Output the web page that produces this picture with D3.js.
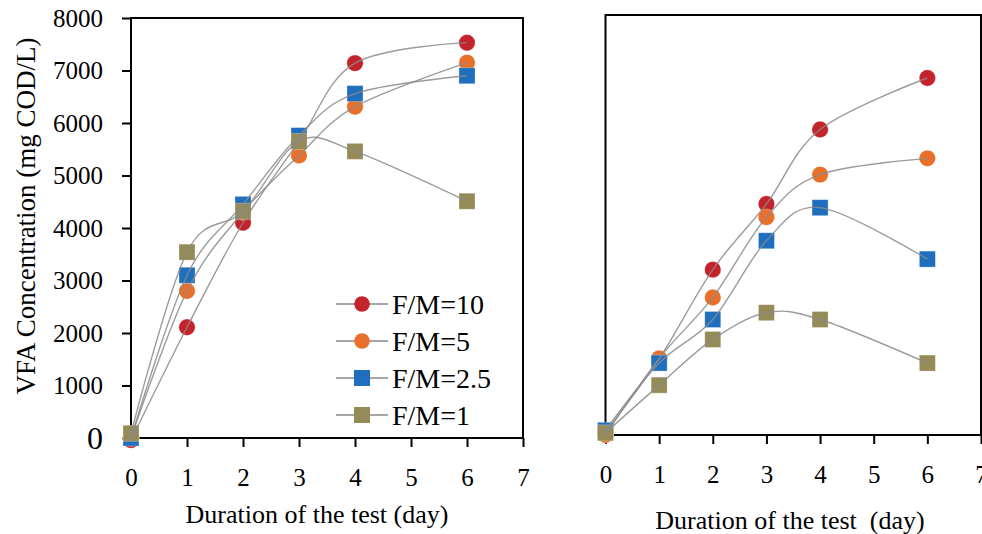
<!DOCTYPE html>
<html><head><meta charset="utf-8">
<script src="https://cdn.jsdelivr.net/npm/d3@7"></script>
<style>body{margin:0;background:#fff}svg{display:block}
svg text{font-family:"Liberation Serif","DejaVu Serif","Noto Serif",serif !important;fill:#000}</style>
</head><body><svg id="c" width="982" height="534"></svg>
<script>
const days = [0, 1, 2, 3, 4, 6];
const seriesNames = ["F/M=10", "F/M=5", "F/M=2.5", "F/M=1"];
const seriesColors = ["#C5232B", "#E8702A", "#1F6FBE", "#958B57"];
const seriesShapes = ["circle", "circle", "square", "square"];
// Left panel values (mg COD/L)
const leftFM10 = [-40, 2110, 4100, 5650, 7140, 7530];
const leftFM5 = [0, 2800, 4300, 5380, 6310, 7150];
const leftFM25 = [0, 3100, 4450, 5760, 6560, 6900];
const leftFM1 = [90, 3540, 4320, 5650, 5460, 4510];
// Right panel values (mg COD/L)
const rightFM10 = [60, 1450, 3150, 4400, 5820, 6800];
const rightFM5 = [0, 1460, 2620, 4150, 4960, 5270];
const rightFM25 = [90, 1370, 2200, 3700, 4330, 3350];
const rightFM1 = [40, 950, 1820, 2330, 2200, 1370];
const xTicks = [0, 1, 2, 3, 4, 5, 6, 7];
const yTicks = [0, 1000, 2000, 3000, 4000, 5000, 6000, 7000, 8000];
const yTitle = "VFA Concentration (mg COD/L)";
const xTitleLeft = "Duration of the test (day)";
const xTitleRight = "Duration of the test  (day)";

const FONT = '"Liberation Serif","DejaVu Serif","Noto Serif",serif';
const svg = d3.select("#c").attr("font-family", FONT);

function panel(opts) {
  const {x, y, data, showY, legend} = opts;
  const g = svg.append("g");
  const xa = g.append("g").attr("transform", `translate(0,${y.range()[0]})`)
    .call(d3.axisBottom(x).tickValues(xTicks).tickSize(9).tickSizeOuter(0).tickPadding(21).tickFormat(d3.format("d")));
  xa.attr("font-family", FONT);
  xa.select(".domain").remove();
  xa.selectAll("line").attr("stroke", "#000").attr("stroke-width", 2);
  xa.selectAll("text").attr("font-size", 25);
  if (showY) {
    const ya = g.append("g").attr("transform", `translate(${x.range()[0]},0)`)
      .call(d3.axisLeft(y).tickValues(yTicks).tickSize(9).tickSizeOuter(0).tickPadding(19).tickFormat(d3.format("d")));
    ya.attr("font-family", FONT);
    ya.select(".domain").remove();
    ya.selectAll("line").attr("stroke", "#000").attr("stroke-width", 2);
    ya.selectAll("text").attr("font-size", d => d === 0 ? 32 : 25);
  }
  g.append("rect").attr("x", x.range()[0]).attr("y", y.range()[1])
    .attr("width", x.range()[1] - x.range()[0]).attr("height", y.range()[0] - y.range()[1])
    .attr("fill", "none").attr("stroke", "#000").attr("stroke-width", 2);

  const line = d3.line().x((d, i) => x(days[i])).y(d => y(d)).curve(d3.curveCardinal.tension(0));
  data.forEach((vals, si) => {
    const mg = g.append("g");
    vals.forEach((v, i) => {
      if (seriesShapes[si] === "circle") {
        mg.append("circle").attr("cx", x(days[i])).attr("cy", y(v)).attr("r", 8.2)
          .attr("fill", seriesColors[si]).attr("stroke", "#fff").attr("stroke-opacity", 0.35).attr("stroke-width", 0.8);
      } else {
        mg.append("rect").attr("x", x(days[i]) - 8).attr("y", y(v) - 8).attr("width", 16).attr("height", 16)
          .attr("fill", seriesColors[si]).attr("stroke", "#fff").attr("stroke-opacity", 0.35).attr("stroke-width", 0.8);
      }
    });
  });
  data.forEach((vals) => {
    g.append("path").attr("d", line(vals)).attr("fill", "none")
      .attr("stroke", "#8a8a8a").attr("stroke-opacity", 0.85).attr("stroke-width", 1.4);
  });
  if (legend) {
    const rowY = d3.scaleLinear().domain([0, 3]).range([304, 415]);
    seriesNames.forEach((name, si) => {
      const ly = rowY(si);
      g.append("line").attr("x1", 336).attr("x2", 388).attr("y1", ly).attr("y2", ly)
        .attr("stroke", "#8a8a8a").attr("stroke-width", 1.4);
      if (seriesShapes[si] === "circle") {
        g.append("circle").attr("cx", 362).attr("cy", ly).attr("r", 7.8).attr("fill", seriesColors[si]);
      } else {
        g.append("rect").attr("x", 354).attr("y", ly - 8).attr("width", 16).attr("height", 16).attr("fill", seriesColors[si]);
      }
      g.append("text").attr("x", 392).attr("y", ly).attr("dy", "0.35em")
        .attr("font-size", 28).text(name);
    });
  }
}

const xL = d3.scaleLinear().domain([0, 7]).range([131, 523]);
const yL = d3.scaleLinear().domain([0, 8000]).range([438, 18]);
const xR = d3.scaleLinear().domain([0, 7]).range([605.5, 981]);
const yR = d3.scaleLinear().domain([0, 8000]).range([435, 15]);

panel({x: xL, y: yL, data: [leftFM10, leftFM5, leftFM25, leftFM1], showY: true, legend: true});
panel({x: xR, y: yR, data: [rightFM10, rightFM5, rightFM25, rightFM1], showY: false, legend: false});

svg.append("text").attr("transform", "translate(35,216) rotate(-90)")
  .attr("text-anchor", "middle").attr("font-size", 27).text(yTitle);
svg.append("text").attr("x", 317).attr("y", 523).attr("text-anchor", "middle")
  .attr("font-size", 26).text(xTitleLeft);
svg.append("text").attr("x", 790).attr("y", 529).attr("text-anchor", "middle")
  .attr("font-size", 26).style("white-space", "pre").text(xTitleRight);
</script></body></html>
